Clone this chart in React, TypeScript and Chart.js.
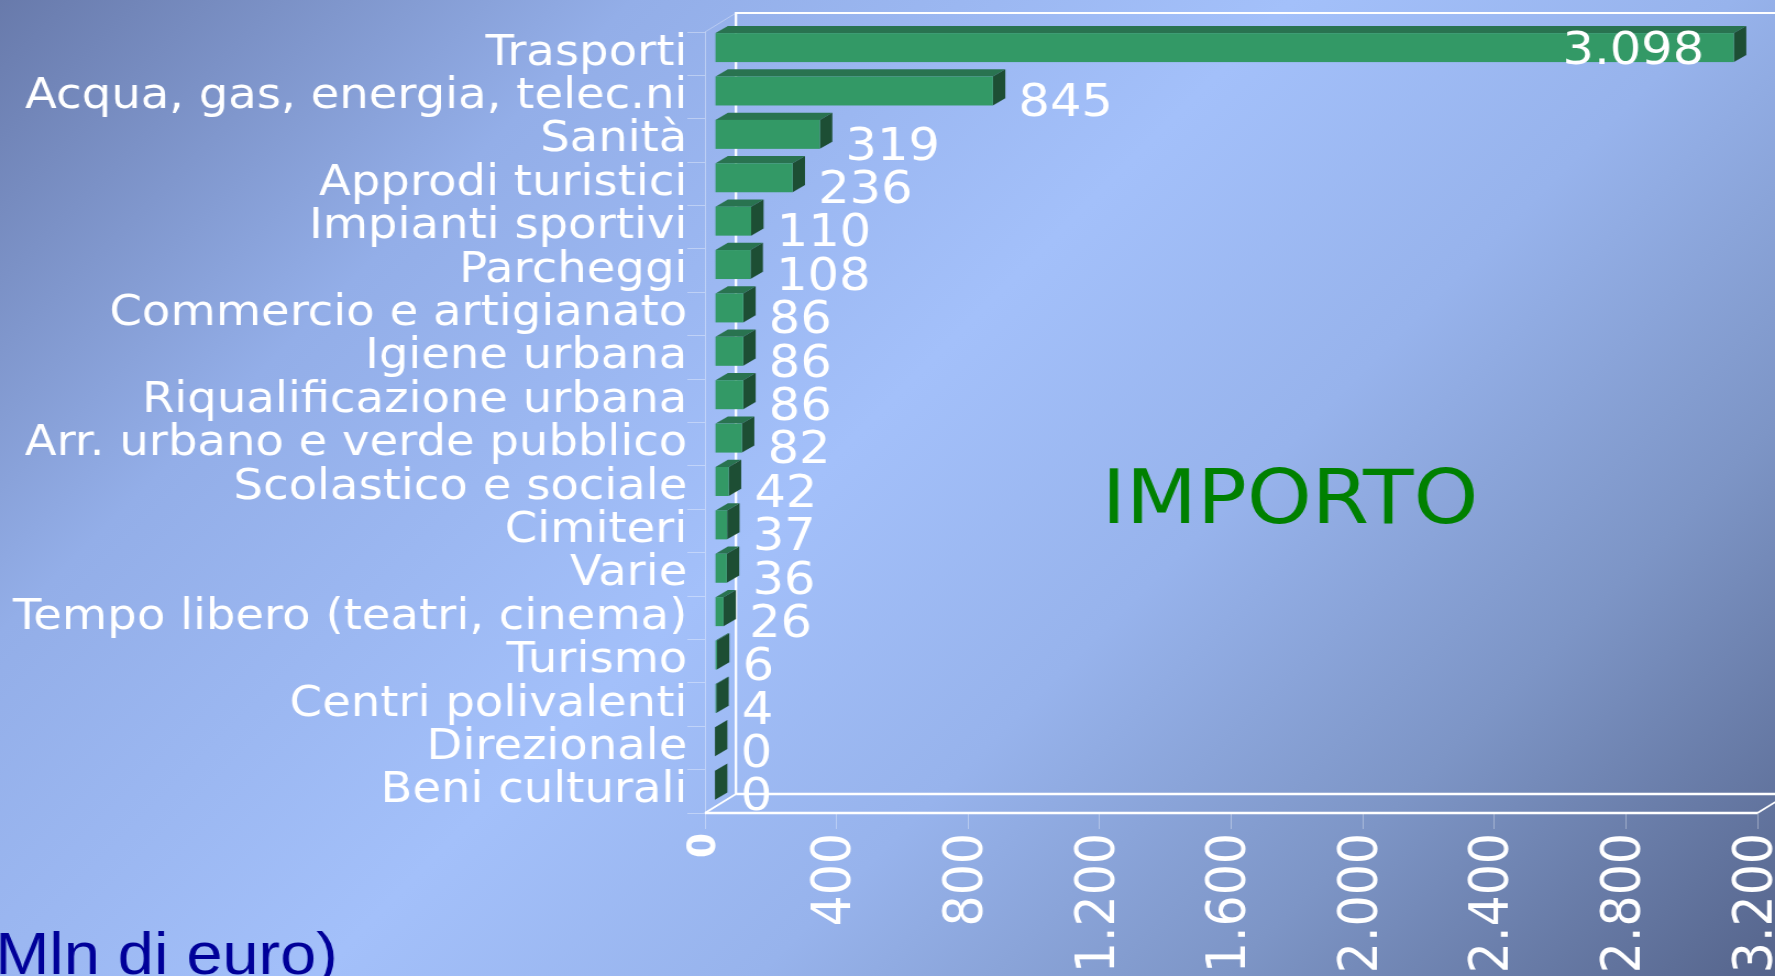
import React, { useEffect, useRef } from 'react';
import { Chart, registerables } from 'chart.js';

Chart.register(...registerables);

// ---- data ----
const categories: string[] = [
  'Trasporti',
  'Acqua, gas, energia, telec.ni',
  'Sanità',
  'Approdi turistici',
  'Impianti sportivi',
  'Parcheggi',
  'Commercio e artigianato',
  'Igiene urbana',
  'Riqualificazione urbana',
  'Arr. urbano e verde pubblico',
  'Scolastico e sociale',
  'Cimiteri',
  'Varie',
  'Tempo libero (teatri, cinema)',
  'Turismo',
  'Centri polivalenti',
  'Direzionale',
  'Beni culturali',
];
const importo: number[] = [3098, 845, 319, 236, 110, 108, 86, 86, 86, 82, 42, 37, 36, 26, 6, 4, 0, 0];
const axisMin = 0;
const axisMax = 3200;
const axisStep = 400;
const seriesLabel = 'IMPORTO';
const unitNote = '(Mln di euro)';

// ---- layout / style ----
const PAGE_W = 1775;
const PAGE_H = 976;
const STRETCH = 1.1;
const W = Math.round(PAGE_W / STRETCH);
const H = PAGE_H;

const FONT = 'DejaVu Sans';
const WALL_DX = 28.2;
const WALL_DY = -19;
const BAR_OFF_X = 9.1;
const BAR_OFF_Y = -6.1;
const BAR_DX = 11.3;
const BAR_DY = -7.2;
const FRONT = '#339966';
const TOP = '#297350';
const SIDE = '#1d4e34';
const FAINT = 'rgba(255,255,255,0.35)';

function fmt(v: number): string {
  return String(v).replace(/\B(?=(\d{3})+(?!\d))/g, '.');
}

const frame3d = {
  id: 'frame3d',
  beforeDatasetsDraw(chart: any) {
    const ctx = chart.ctx;
    const xs = chart.scales.x;
    const area = chart.chartArea;
    const x0 = xs.getPixelForValue(axisMin);
    const xR = xs.getPixelForValue(axisMax);
    const yB = area.bottom;
    const yT = area.top;
    ctx.save();
    ctx.lineCap = 'butt';
    ctx.strokeStyle = FAINT;
    ctx.lineWidth = 1;
    ctx.beginPath();
    ctx.moveTo(x0, yT);
    ctx.lineTo(x0 + WALL_DX, yT + WALL_DY);
    ctx.stroke();
    ctx.strokeStyle = '#ffffff';
    ctx.lineWidth = 2.2;
    ctx.beginPath();
    ctx.moveTo(x0 + WALL_DX, yB + WALL_DY);
    ctx.lineTo(x0 + WALL_DX, yT + WALL_DY);
    ctx.lineTo(xR + WALL_DX + 40, yT + WALL_DY);
    ctx.stroke();
    ctx.lineWidth = 2.6;
    ctx.beginPath();
    ctx.moveTo(x0, yB);
    ctx.lineTo(xR, yB);
    ctx.moveTo(x0 + WALL_DX, yB + WALL_DY);
    ctx.lineTo(xR + WALL_DX + 40, yB + WALL_DY);
    ctx.stroke();
    ctx.lineWidth = 1.8;
    ctx.beginPath();
    ctx.moveTo(x0, yB);
    ctx.lineTo(x0 + WALL_DX, yB + WALL_DY);
    ctx.moveTo(xR, yB);
    ctx.lineTo(xR + WALL_DX, yB + WALL_DY);
    ctx.stroke();
    ctx.restore();
  },
  afterDatasetsDraw(chart: any) {
    const ctx = chart.ctx;
    const xs = chart.scales.x;
    const xR = xs.getPixelForValue(axisMax);
    const meta = chart.getDatasetMeta(0);
    ctx.save();
    meta.data.forEach((el: any, i: number) => {
      const p = el.getProps(['x', 'y', 'base', 'height'], true);
      const l = p.base + BAR_OFF_X;
      const r = p.x + BAR_OFF_X;
      const t = p.y + BAR_OFF_Y - p.height / 2;
      const b = p.y + BAR_OFF_Y + p.height / 2;
      ctx.fillStyle = TOP;
      ctx.beginPath();
      ctx.moveTo(l, t);
      ctx.lineTo(r, t);
      ctx.lineTo(r + BAR_DX, t + BAR_DY);
      ctx.lineTo(l + BAR_DX, t + BAR_DY);
      ctx.closePath();
      ctx.fill();
      ctx.fillStyle = SIDE;
      ctx.beginPath();
      ctx.moveTo(r, t);
      ctx.lineTo(r + BAR_DX, t + BAR_DY);
      ctx.lineTo(r + BAR_DX, b + BAR_DY);
      ctx.lineTo(r, b);
      ctx.closePath();
      ctx.fill();
      ctx.fillStyle = FRONT;
      ctx.fillRect(l, t, r - l, b - t);

      const txt = fmt(importo[i]);
      ctx.font = `45px "${FONT}"`;
      ctx.fillStyle = '#ffffff';
      ctx.textBaseline = 'middle';
      const tw = ctx.measureText(txt).width;
      const lx = r + BAR_DX + 12;
      if (lx + tw > xR) {
        ctx.textAlign = 'right';
        ctx.fillText(txt, r - 27, p.y - 1.5);
      } else {
        ctx.textAlign = 'left';
        ctx.fillText(txt, lx, p.y + 7.5);
      }
    });
    ctx.font = `75px "${FONT}"`;
    ctx.fillStyle = '#008000';
    ctx.textAlign = 'center';
    ctx.textBaseline = 'alphabetic';
    ctx.fillText(seriesLabel, 1173, 523);
    ctx.font = `59px "Liberation Sans"`;
    ctx.fillStyle = '#000099';
    ctx.textAlign = 'left';
    ctx.fillText(unitNote, -24, 974);
    ctx.restore();
  },
};

export default function App() {
  const ref = useRef<HTMLCanvasElement | null>(null);

  useEffect(() => {
    document.body.style.margin = '0';
    document.body.style.overflow = 'hidden';
    if (!ref.current) return;
    const chart = new Chart(ref.current, {
      type: 'bar',
      data: {
        labels: categories,
        datasets: [
          {
            label: seriesLabel,
            data: importo,
            backgroundColor: 'rgba(0,0,0,0)',
            borderWidth: 0,
            barPercentage: 0.668,
            categoryPercentage: 1,
          },
        ],
      },
      options: {
        indexAxis: 'y',
        animation: false,
        responsive: true,
        maintainAspectRatio: false,
        layout: { padding: { top: 32, right: W - 1598, bottom: 0, left: 0 } },
        plugins: { legend: { display: false }, tooltip: { enabled: false }, title: { display: false } },
        scales: {
          x: {
            type: 'linear',
            min: axisMin,
            max: axisMax,
            grid: {
              drawOnChartArea: false,
              drawTicks: true,
              tickLength: 16,
              color: FAINT,
              lineWidth: 1,
            },
            border: { display: false },
            ticks: {
              stepSize: axisStep,
              autoSkip: false,
              minRotation: 90,
              maxRotation: 90,
              padding: 4,
              color: '#ffffff',
              font: (c: any) =>
                c.tick && c.tick.value === 0
                  ? { family: FONT, size: 36, weight: 'bold' }
                  : { family: FONT, size: 49, weight: 'normal' },
              callback: (v: any) => fmt(Number(v)),
            },
            afterFit: (s: any) => {
              s.height = 163;
              s.paddingLeft = 0;
              s.paddingRight = 0;
            },
          },
          y: {
            type: 'category',
            grid: {
              drawOnChartArea: false,
              drawTicks: true,
              tickLength: 16,
              color: FAINT,
              offset: true,
            },
            border: { display: true, color: FAINT, width: 1 },
            ticks: {
              color: '#ffffff',
              padding: 0,
              autoSkip: false,
              font: { family: FONT, size: 42.3 },
            },
            afterFit: (s: any) => {
              s.width = 641;
              s.paddingTop = 0;
              s.paddingBottom = 0;
            },
          },
        },
      },
      plugins: [frame3d],
    });
    return () => chart.destroy();
  }, []);

  return (
    <div
      style={{
        position: 'fixed',
        left: 0,
        top: 0,
        width: PAGE_W,
        height: PAGE_H,
        overflow: 'hidden',
        background:
          'linear-gradient(135deg, #687aab 0%, #93aee8 23%, #a3c0fa 47%, #97b3ec 63%, #7d95c6 80%, #55648b 100%)',
      }}
    >
      <div
        style={{
          position: 'absolute',
          left: 0,
          top: 0,
          width: W,
          height: H,
          transform: `scaleX(${PAGE_W / W})`,
          transformOrigin: '0 0',
        }}
      >
        <canvas ref={ref} />
      </div>
    </div>
  );
}
